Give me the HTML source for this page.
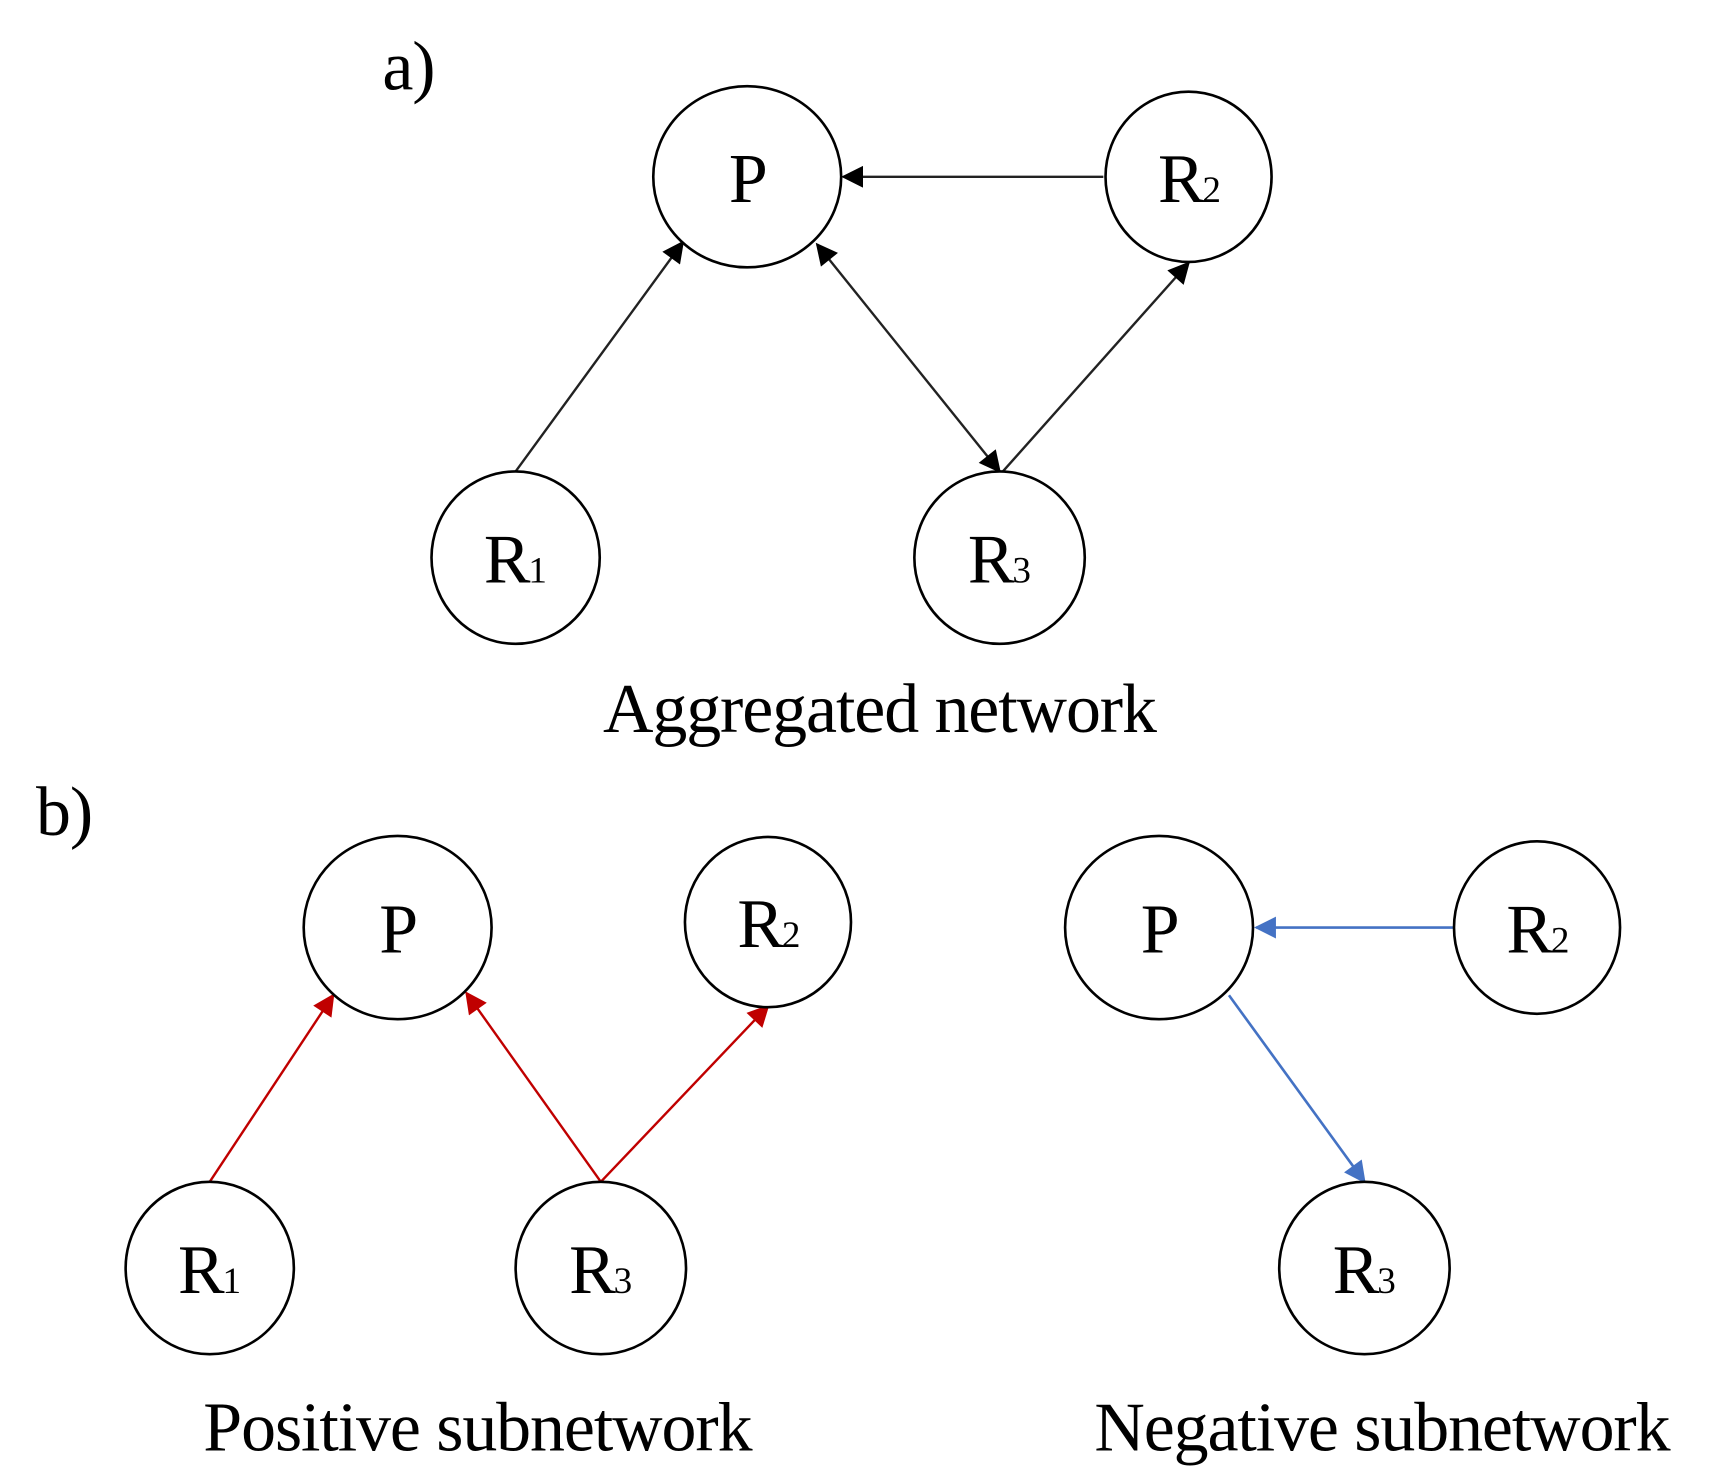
<!DOCTYPE html>
<html><head><meta charset="utf-8"><style>
html,body{margin:0;padding:0;background:#fff;}
svg{display:block;}
text{font-family:"Liberation Serif","Times New Roman",serif;fill:#000;}
</style></head><body>
<svg width="1714" height="1483" viewBox="0 0 1569 1359" preserveAspectRatio="none" xmlns="http://www.w3.org/2000/svg">
<defs>
<marker id="ak" viewBox="0 0 10 10" refX="9" refY="5" markerWidth="22" markerHeight="20" markerUnits="userSpaceOnUse" orient="auto-start-reverse"><path d="M0,0 L10,5 L0,10 z" fill="#000"/></marker>
<marker id="ar" viewBox="0 0 10 10" refX="9" refY="5" markerWidth="22" markerHeight="20" markerUnits="userSpaceOnUse" orient="auto"><path d="M0,0 L10,5 L0,10 z" fill="#c00000"/></marker>
<marker id="ab" viewBox="0 0 10 10" refX="9" refY="5" markerWidth="22" markerHeight="20" markerUnits="userSpaceOnUse" orient="auto"><path d="M0,0 L10,5 L0,10 z" fill="#4472c4"/></marker>
</defs>
<style>
.k{stroke:#222;stroke-width:2.2;}
.r{stroke:#c00000;stroke-width:2.2;}
.b{stroke:#4472c4;stroke-width:2.4;}
.n{fill:#fff;stroke:#000;stroke-width:2.4;}
.L{font-size:64px;letter-spacing:-2px;}
.s{font-size:34px;}
.cap{font-size:64px;letter-spacing:-1px;}
</style>
<line class="k" x1="1010" y1="162" x2="772" y2="162" marker-end="url(#ak)"/>
<line class="k" x1="472" y1="432" x2="625" y2="222" marker-end="url(#ak)"/>
<line class="k" x1="748" y1="224" x2="915" y2="432" marker-start="url(#ak)" marker-end="url(#ak)"/>
<line class="k" x1="918" y1="432" x2="1088" y2="241" marker-end="url(#ak)"/>
<line class="r" x1="192" y1="1083" x2="305" y2="912" marker-end="url(#ar)"/>
<line class="r" x1="550" y1="1083" x2="427" y2="910" marker-end="url(#ar)"/>
<line class="r" x1="550" y1="1083" x2="703" y2="922" marker-end="url(#ar)"/>
<line class="b" x1="1330" y1="850" x2="1150" y2="850" marker-end="url(#ab)"/>
<line class="b" x1="1125" y1="912" x2="1249" y2="1083" marker-end="url(#ab)"/>
<ellipse class="n" cx="684" cy="162" rx="86" ry="83"/>
<ellipse class="n" cx="1088" cy="162" rx="76" ry="78"/>
<ellipse class="n" cx="472" cy="511" rx="77" ry="79"/>
<ellipse class="n" cx="915" cy="511" rx="78" ry="79"/>
<ellipse class="n" cx="364" cy="850" rx="86" ry="84"/>
<ellipse class="n" cx="703" cy="845" rx="76" ry="78"/>
<ellipse class="n" cx="192" cy="1162" rx="77" ry="79"/>
<ellipse class="n" cx="550" cy="1162" rx="78" ry="79"/>
<ellipse class="n" cx="1061" cy="850" rx="86" ry="84"/>
<ellipse class="n" cx="1407" cy="850" rx="76" ry="79"/>
<ellipse class="n" cx="1249" cy="1162" rx="78" ry="79"/>
<text class="L" x="684" y="185" text-anchor="middle">P</text>
<text class="L" x="1060" y="185">R<tspan class="s">2</tspan></text>
<text class="L" x="443" y="534">R<tspan class="s">1</tspan></text>
<text class="L" x="886" y="534">R<tspan class="s">3</tspan></text>
<text class="L" x="364" y="873" text-anchor="middle">P</text>
<text class="L" x="675" y="868">R<tspan class="s">2</tspan></text>
<text class="L" x="163" y="1185">R<tspan class="s">1</tspan></text>
<text class="L" x="521" y="1185">R<tspan class="s">3</tspan></text>
<text class="L" x="1061" y="873" text-anchor="middle">P</text>
<text class="L" x="1379" y="873">R<tspan class="s">2</tspan></text>
<text class="L" x="1220" y="1185">R<tspan class="s">3</tspan></text>
<text class="cap" x="350" y="82">a)</text>
<text class="cap" x="33" y="765">b)</text>
<text class="cap" x="805" y="671" text-anchor="middle">Aggregated network</text>
<text class="cap" x="437" y="1329" text-anchor="middle">Positive subnetwork</text>
<text class="cap" x="1265" y="1329" text-anchor="middle">Negative subnetwork</text>
</svg>
</body></html>
